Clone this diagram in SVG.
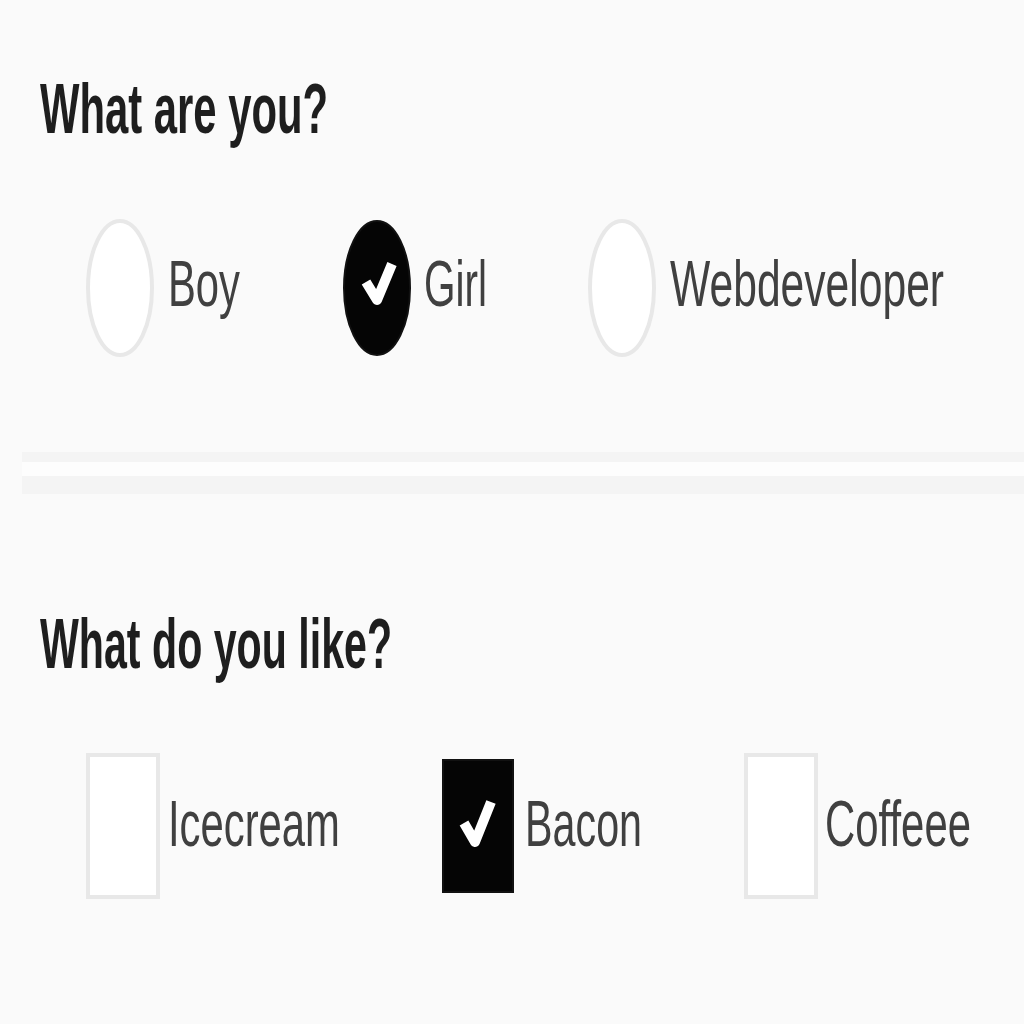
<svg xmlns="http://www.w3.org/2000/svg" width="1024" height="1024" viewBox="0 0 1024 1024">
<style>
.title{font-family:"Liberation Sans",Arial,sans-serif;font-weight:bold;font-size:70px;fill:#1e1e1e}
.opt{font-family:"Liberation Sans",Arial,sans-serif;font-size:64px;fill:#404040}
.off{fill:#ffffff;stroke:#e8e8e8;stroke-width:4}
.on{fill:#050505;stroke:#111;stroke-width:2}
.tick{fill:none;stroke:#ffffff;stroke-width:10;stroke-linecap:butt;stroke-linejoin:round}
</style>
<rect width="1024" height="1024" fill="#fafafa"/>
<g id="q1">
<text class="title" transform="scale(0.6 1)" x="66.7" y="133" textLength="480" lengthAdjust="spacingAndGlyphs">What are you?</text>
</g>
<g id="opt-boy">
<ellipse class="off" cx="120" cy="288" rx="32" ry="67"/>
<text class="opt" transform="scale(0.66 1)" x="254.5" y="306" textLength="109.1" lengthAdjust="spacingAndGlyphs">Boy</text>
</g>
<g id="opt-girl">
<ellipse class="on" cx="377" cy="288" rx="33" ry="67"/>
<polyline class="tick" points="366,282 377,300 392,264"/>
<text class="opt" transform="scale(0.66 1)" x="642.4" y="306" textLength="95.5" lengthAdjust="spacingAndGlyphs">Girl</text>
</g>
<g id="opt-webdev">
<ellipse class="off" cx="622" cy="288" rx="32" ry="67"/>
<text class="opt" transform="scale(0.66 1)" x="1015.2" y="306" textLength="415.2" lengthAdjust="spacingAndGlyphs">Webdeveloper</text>
</g>
<g id="separator">
<rect x="22" y="452" width="1002" height="42" fill="#f4f4f4"/>
<rect x="22" y="462" width="1002" height="14" fill="#fdfdfd"/>
</g>
<g id="q2">
<text class="title" transform="scale(0.6 1)" x="66.7" y="668" textLength="586.7" lengthAdjust="spacingAndGlyphs">What do you like?</text>
</g>
<g id="opt-icecream">
<rect class="off" x="88" y="755" width="70" height="142"/>
<text class="opt" transform="scale(0.66 1)" x="254.5" y="846" textLength="260.6" lengthAdjust="spacingAndGlyphs">Icecream</text>
</g>
<g id="opt-bacon">
<rect class="on" x="443" y="760" width="70" height="132"/>
<polyline class="tick" points="464,823 475,842 491,802"/>
<text class="opt" transform="scale(0.66 1)" x="795.5" y="846" textLength="177.3" lengthAdjust="spacingAndGlyphs">Bacon</text>
</g>
<g id="opt-coffeee">
<rect class="off" x="746" y="755" width="70" height="142"/>
<text class="opt" transform="scale(0.66 1)" x="1250" y="846" textLength="221.2" lengthAdjust="spacingAndGlyphs">Coffeee</text>
</g>
</svg>
